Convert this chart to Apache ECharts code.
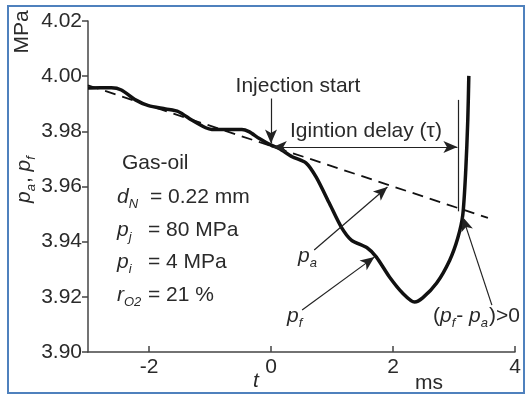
<!DOCTYPE html>
<html><head><meta charset="utf-8">
<script src="https://cdn.jsdelivr.net/npm/echarts@6/dist/echarts.min.js"></script>
<style>html,body{margin:0;padding:0;background:#fff}#c{width:527px;height:396px}</style>
</head><body><div id="c"></div>
<script>
// ---- data ----
const pfTime = [-3.0,-2.617,-2.453,-2.222,-2.008,-1.728,-1.514,-1.300,-1.070,-0.971,-0.477,-0.362,-0.198,0.0,0.132,0.346,0.576,0.741,0.955,1.152,1.317,1.580,1.728,1.942,2.156,2.354,2.486,2.716,2.930,3.062,3.144,3.193,3.226,3.243];
const pfValues = [3.9957,3.9958,3.9950,3.9914,3.9893,3.9881,3.9871,3.9841,3.9813,3.9807,3.9807,3.9799,3.9775,3.9750,3.9738,3.9708,3.9685,3.9634,3.9540,3.9453,3.9406,3.9377,3.9344,3.9272,3.9214,3.9181,3.9196,3.9250,3.9333,3.9413,3.9497,3.9660,3.9841,4.0001];
const paTime = [-3.0, 3.556];
const paValues = [3.9967, 3.9486];
const xTickValues = [-2, 0, 2, 4];
const yTickValues = [3.90, 3.92, 3.94, 3.96, 3.98, 4.00, 4.02];
const injectionT = 0;
const ignitionT = 3.066;

const FONT = '"Liberation Sans", Arial, Helvetica, sans-serif';
const FS = 21, SFS = 13;
const TXT = '#2a2a2a';

const cv = document.createElement('canvas').getContext('2d');
function tw(text, italic, size){ cv.font = (italic?'italic ':'') + size + 'px ' + FONT; return cv.measureText(text).width; }

// sequence builder: parts [text, kind] kind: n normal, i italic, s subscript(italic)
function seq(x, y, parts){
  const els = [];
  let cx = x;
  parts.forEach(([t,k])=>{
    const italic = k!=='n';
    const size = k==='s'? SFS : FS;
    const dy = k==='s'? 7 : 0;
    els.push({type:'text', x: cx, y: y+dy, silent:true,
      style:{text:t, font:(italic?'italic ':'')+size+'px '+FONT, fill:TXT, textAlign:'left', textVerticalAlign:'middle'}});
    cx += tw(t, italic, size) + (k==='s'?1:0);
  });
  return els;
}

const chart = echarts.init(document.getElementById('c'), null, {renderer:'canvas'});

const arrowLines = [
  [{coord:[injectionT, 3.9919], symbol:'none'}, {coord:[injectionT, 3.9756], symbol:'arrow'}],
  [{coord:[0.03, 3.9743], symbol:'arrow'}, {coord:[ignitionT-0.01, 3.9743], symbol:'arrow'}],
  [{coord:[ignitionT, 3.9914], symbol:'none'}, {coord:[ignitionT, 3.951], symbol:'none'}],
  [{coord:[0.708, 3.9370], symbol:'none'}, {coord:[1.909, 3.9598], symbol:'arrow'}],
  [{coord:[0.510, 3.9152], symbol:'none'}, {coord:[1.695, 3.9344], symbol:'arrow'}],
  [{coord:[3.621, 3.9170], symbol:'none'}, {coord:[3.144, 3.9489], symbol:'arrow'}]
];

const graphics = [
  {type:'rect', shape:{x:8,y:6,width:516,height:387}, style:{fill:'none', stroke:'#4f81bd', lineWidth:2}, silent:true},
  {type:'text', x:22, y:32, rotation:Math.PI/2, silent:true, style:{text:'MPa', font:FS+'px '+FONT, fill:TXT, textAlign:'center', textVerticalAlign:'middle'}},
  {type:'group', x:24, y:203, rotation:Math.PI/2, silent:true, children: seq(0,0,[['p','i'],['a','s'],[', ','n'],['p','i'],['f','s']])},
  {type:'text', x:298, y:86, silent:true, style:{text:'Injection start', font:FS+'px '+FONT, fill:TXT, textAlign:'center', textVerticalAlign:'middle'}},
  {type:'text', x:290, y:131, silent:true, style:{text:'Igintion delay (τ)', font:FS+'px '+FONT, fill:TXT, textAlign:'left', textVerticalAlign:'middle'}},
  {type:'text', x:122, y:163, silent:true, style:{text:'Gas-oil', font:FS+'px '+FONT, fill:TXT, textAlign:'left', textVerticalAlign:'middle'}},
  ...seq(117,197,[['d','i'],['N','s']]),
  {type:'text', x:150, y:197, silent:true, style:{text:'= 0.22 mm', font:FS+'px '+FONT, fill:TXT, textAlign:'left', textVerticalAlign:'middle'}},
  ...seq(117,230,[['p','i'],['j','s']]),
  {type:'text', x:148, y:230, silent:true, style:{text:'= 80 MPa', font:FS+'px '+FONT, fill:TXT, textAlign:'left', textVerticalAlign:'middle'}},
  ...seq(117,262,[['p','i'],['i','s']]),
  {type:'text', x:148, y:262, silent:true, style:{text:'= 4 MPa', font:FS+'px '+FONT, fill:TXT, textAlign:'left', textVerticalAlign:'middle'}},
  ...seq(117,295,[['r','i'],['O2','s']]),
  {type:'text', x:148, y:295, silent:true, style:{text:'= 21 %', font:FS+'px '+FONT, fill:TXT, textAlign:'left', textVerticalAlign:'middle'}},
  ...seq(298,256,[['p','i'],['a','s']]),
  ...seq(287,316,[['p','i'],['f','s']]),
  ...seq(433,316,[['(','n'],['p','i'],['f','s'],['- ','n'],['p','i'],['a','s'],[')>0','n']]),
  {type:'text', x:256, y:381, silent:true, style:{text:'t', font:'italic '+FS+'px '+FONT, fill:TXT, textAlign:'center', textVerticalAlign:'middle'}},
  {type:'text', x:429, y:383, silent:true, style:{text:'ms', font:FS+'px '+FONT, fill:TXT, textAlign:'center', textVerticalAlign:'middle'}}
];

chart.setOption({
  animation:false,
  backgroundColor:'#fff',
  grid:{left:88, right:12, top:21, bottom:44, containLabel:false, outerBoundsMode:'none'},
  xAxis:{type:'value', min:-3, max:4,
    axisLine:{show:true, onZero:false, lineStyle:{color:'#444', width:1.5}},
    axisTick:{show:true, inside:true, length:6, customValues:xTickValues, lineStyle:{color:'#444', width:1.5}},
    axisLabel:{customValues:xTickValues, fontSize:FS, fontFamily:FONT, color:TXT, margin:5},
    splitLine:{show:false}},
  yAxis:{type:'value', min:3.90, max:4.02,
    axisLine:{show:true, onZero:false, lineStyle:{color:'#444', width:1.5}},
    axisTick:{show:true, inside:false, length:6, customValues:yTickValues, lineStyle:{color:'#444', width:1.5}},
    axisLabel:{customValues:yTickValues, fontSize:FS, fontFamily:FONT, color:TXT, margin:6, formatter:v=>v.toFixed(2)},
    splitLine:{show:false}},
  series:[
    {name:'pa', type:'line', data: paTime.map((t,i)=>[t,paValues[i]]), showSymbol:false, silent:true,
      lineStyle:{color:'#111', width:1.8, type:[11,7]}},
    {name:'pf', type:'line', data: pfTime.map((t,i)=>[t,pfValues[i]]), showSymbol:false, smooth:0.25, silent:true,
      lineStyle:{color:'#111', width:3.5},
      markLine:{silent:true, symbolSize:[9,14], label:{show:false}, lineStyle:{color:'#222', width:1.2, type:'solid'},
        emphasis:{disabled:true}, data:arrowLines}}
  ],
  graphic: graphics
});
</script></body></html>
